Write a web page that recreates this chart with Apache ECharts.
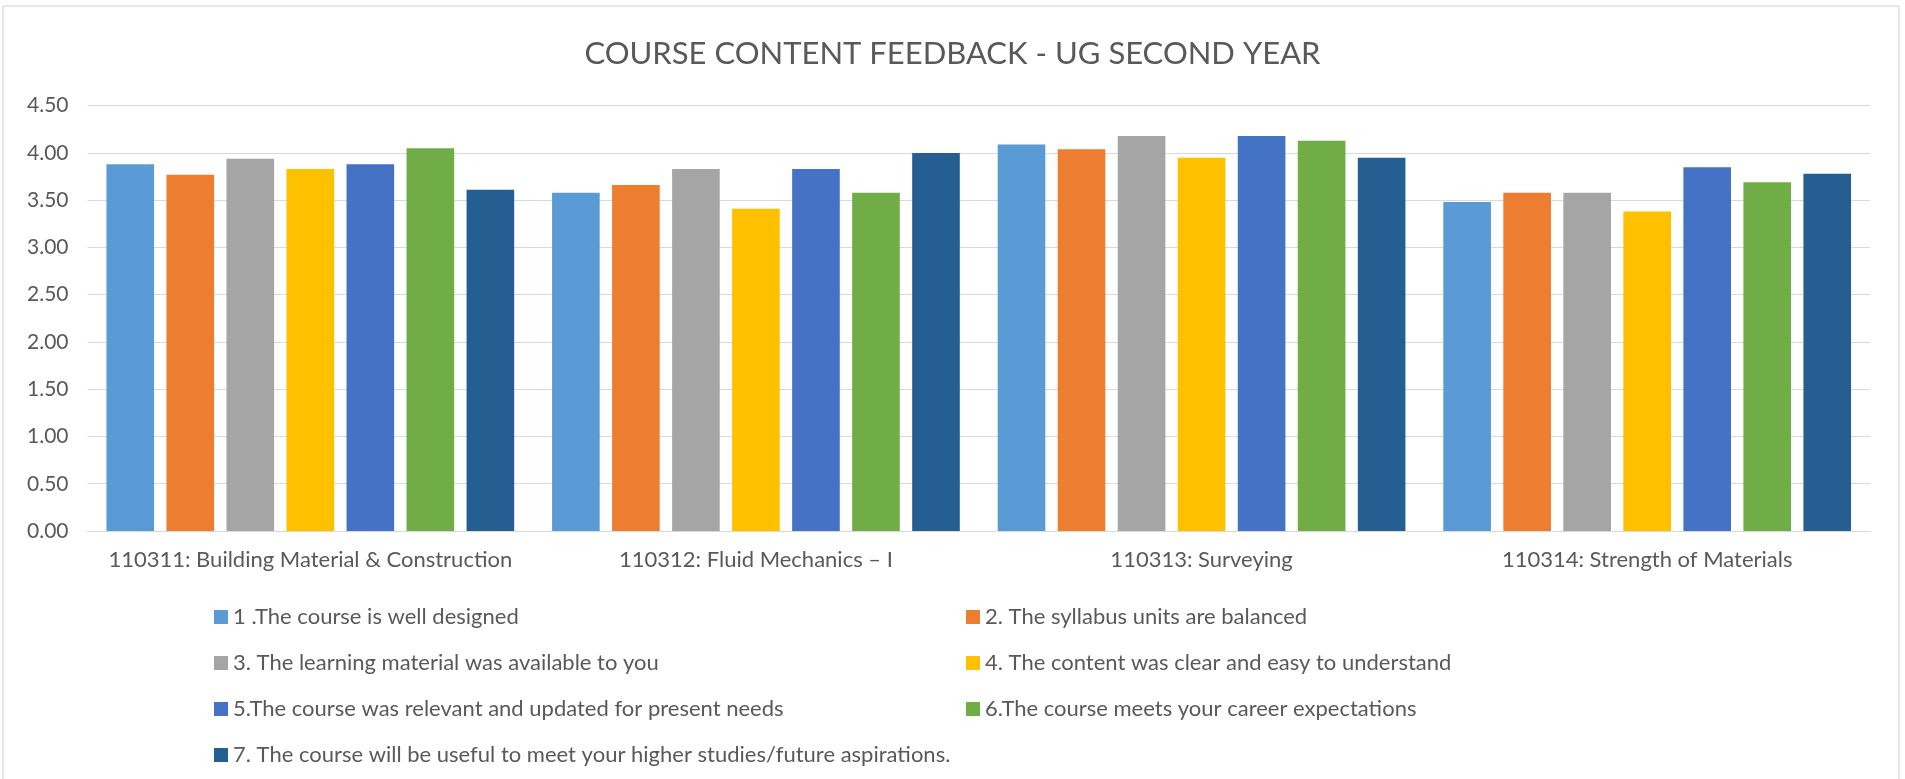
<!DOCTYPE html>
<html>
<head>
<meta charset="utf-8">
<title>Course Content Feedback</title>
<script src="https://cdn.jsdelivr.net/npm/echarts@6/dist/echarts.min.js"></script>
<style>
    html, body { margin: 0; padding: 0; background: #fff; }
    #chart { width: 1905px; height: 779px; }
</style>
</head>
<body>
<div id="chart"></div>
<script>
    // courses on the x axis
    var courses = [
        '110311: Building Material & Construction',
        '110312: Fluid Mechanics – I',
        '110313: Surveying',
        '110314: Strength of Materials'
    ];
    var questions = [
        '1 .The course is well designed',
        '2. The syllabus units are balanced',
        '3. The learning material was available to you',
        '4. The content was clear and easy to understand',
        '5.The course was relevant and updated for present needs',
        '6.The course meets your career expectations',
        '7. The course will be useful to meet your higher studies/future aspirations.'
    ];
    // one array per question, values per course
    var q1 = [3.88, 3.58, 4.09, 3.48];
    var q2 = [3.77, 3.66, 4.04, 3.58];
    var q3 = [3.94, 3.83, 4.18, 3.58];
    var q4 = [3.83, 3.41, 3.95, 3.38];
    var q5 = [3.88, 3.83, 4.18, 3.85];
    var q6 = [4.05, 3.58, 4.13, 3.69];
    var q7 = [3.61, 4.00, 3.95, 3.78];
    var yTicks = [0, 0.5, 1, 1.5, 2, 2.5, 3, 3.5, 4, 4.5];

    var colors = ['#5b9bd5', '#ed7d31', '#a5a5a5', '#ffc000', '#4472c4', '#70ad47', '#255e91'];
    var values = [q1, q2, q3, q4, q5, q6, q7];
    var font = 'Lato, "Open Sans", sans-serif';
    var textColor = '#595959';

    var myChart = echarts.init(document.getElementById('chart'));

    var series = values.map(function (v, i) {
        return {
            name: questions[i],
            type: 'bar',
            data: v,
            barGap: '26%',
            barCategoryGap: '8.5%',
            itemStyle: { color: colors[i] }
        };
    });

    var legendBase = {
        orient: 'vertical',
        top: 601,
        icon: 'rect',
        itemWidth: 14,
        itemHeight: 14,
        itemGap: 24,
        textStyle: { color: textColor, fontSize: 22, fontFamily: font, lineHeight: 22 }
    };

    var options = {
        color: colors,
        animation: false,
        title: {
            text: 'COURSE CONTENT FEEDBACK - UG SECOND YEAR',
            left: 'center',
            top: 33,
            textStyle: {
                color: textColor,
                fontSize: 31,
                fontWeight: 'normal',
                fontFamily: font
            }
        },
        graphic: [{
            type: 'rect',
            shape: { x: 3, y: 6, width: 1896, height: 800 },
            style: { fill: 'none', stroke: '#d0d0d0', lineWidth: 1 },
            silent: true
        }],
        legend: [
            Object.assign({}, legendBase, { left: 209, data: [questions[0], questions[2], questions[4], questions[6]] }),
            Object.assign({}, legendBase, { left: 961, data: [questions[1], questions[3], questions[5]] })
        ],
        grid: {
            left: 87.5,
            right: 35,
            top: 105.7,
            bottom: 248,
            outerBoundsMode: 'none'
        },
        xAxis: {
            type: 'category',
            data: courses,
            axisTick: { show: false },
            axisLine: { lineStyle: { color: '#d9d9d9', width: 1 } },
            axisLabel: {
                color: textColor,
                fontSize: 22,
                fontFamily: font,
                margin: 18,
                interval: 0
            }
        },
        yAxis: {
            type: 'value',
            min: yTicks[0],
            max: yTicks[yTicks.length - 1],
            interval: 0.5,
            axisLine: { show: false },
            axisTick: { show: false },
            splitLine: { lineStyle: { color: '#d9d9d9', width: 1 } },
            axisLabel: {
                color: textColor,
                fontSize: 21,
                fontFamily: font,
                margin: 19,
                formatter: function (val) { return val.toFixed(2); }
            }
        },
        series: series
    };
    myChart.setOption(options);
</script>
</body>
</html>
